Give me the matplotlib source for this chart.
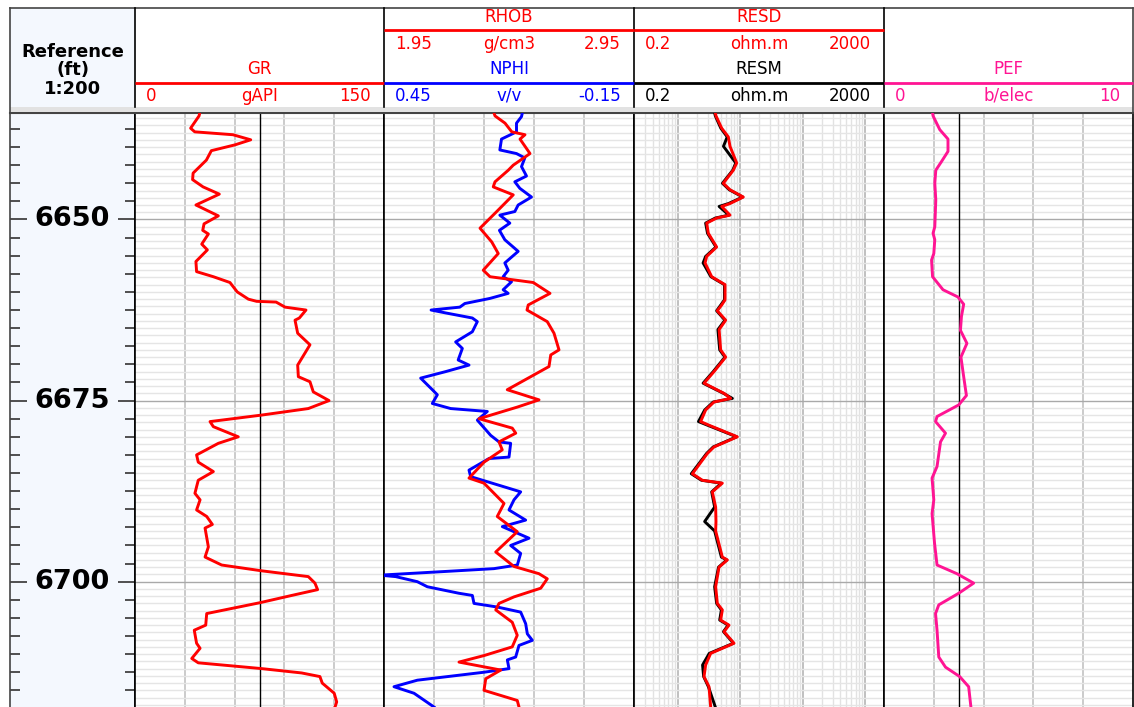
import numpy as np
import matplotlib
matplotlib.use("Agg")
import matplotlib.pyplot as plt
from matplotlib.ticker import MultipleLocator, FixedLocator, LogLocator, NullFormatter

# ---- log data (depth in ft) ----
gr_depth = [6635.3, 6635.7, 6637.4, 6637.9, 6638.3, 6639.0, 6639.7, 6640.5, 6641.8, 6643.6,
            6644.5, 6645.5, 6646.5, 6648.0, 6649.5, 6650.6, 6651.5, 6652.0, 6653.4, 6654.2,
            6655.8, 6657.2, 6657.9, 6658.7, 6660.0, 6661.0, 6661.3, 6661.4, 6662.1, 6662.5,
            6663.6, 6663.9, 6665.7, 6667.3, 6670.1, 6671.7, 6672.4, 6673.8, 6675.0, 6676.1,
            6677.0, 6677.9, 6678.6, 6680.0, 6680.9, 6682.5, 6683.5, 6684.8, 6686.0, 6687.8,
            6688.7, 6690.1, 6691.0, 6692.1, 6692.6, 6695.2, 6696.6, 6697.7, 6698.5, 6699.3,
            6700.2, 6701.1, 6701.9, 6702.9, 6704.4, 6706.0, 6706.7, 6708.5, 6709.2, 6710.6,
            6711.2, 6712.0, 6712.6, 6713.1, 6714.0, 6715.4, 6716.6, 6717.3]
gr = [39, 38.6, 33.5, 36, 59, 69.7, 60.2, 46, 43, 35,
      34.7, 41, 50.8, 36.7, 50.2, 41.6, 40.8, 44.2, 40.2, 43.6,
      36.7, 37.1, 47.2, 57.2, 61.6, 68.3, 73.3, 85, 90.4, 103,
      99, 96.4, 98, 105.4, 98, 98.4, 105.4, 107.4, 116.9, 104.4,
      76.3, 45.2, 47.2, 62.2, 50.2, 37.1, 38.1, 47.2, 38.1, 36.1,
      39.2, 37.1, 43.2, 46.6, 42.2, 44.2, 42.2, 52.2, 76.3, 104.4,
      108.4, 110, 94.4, 75.3, 43.2, 42.6, 35.7, 37.1, 39.2, 34.2,
      38.1, 76.3, 100.4, 111.4, 112.8, 120, 121.5, 120.5]

nphi_depth = [6635.3, 6635.8, 6636.7, 6637.9, 6638.9, 6640.4, 6640.9, 6641.5, 6642.7, 6644.0,
              6644.8, 6645.7, 6646.9, 6648.0, 6648.9, 6649.4, 6650.5, 6651.5, 6652.8, 6654.4,
              6656.0, 6657.0, 6657.9, 6658.6, 6659.7, 6660.2, 6660.9, 6661.6, 6662.1, 6662.5,
              6662.9, 6663.6, 6664.1, 6665.5, 6666.9, 6667.8, 6669.4, 6670.1, 6671.0, 6671.9,
              6673.5, 6674.2, 6675.4, 6676.1, 6676.5, 6677.7, 6679.8, 6680.7, 6680.9, 6682.8,
              6683.0, 6684.6, 6685.5, 6687.6, 6688.7, 6690.1, 6691.5, 6692.4, 6694.0, 6695.0,
              6696.1, 6697.7, 6698.2, 6698.6, 6699.1, 6699.3, 6700.0, 6700.7, 6701.6, 6701.9,
              6703.0, 6703.5, 6704.2, 6705.8, 6707.2, 6708.1, 6708.8, 6710.4, 6710.8, 6712.0,
              6712.5, 6713.6, 6714.5, 6715.4, 6717.3]
nphi = [0.118, 0.120, 0.132, 0.132, 0.168, 0.172, 0.132, 0.112, 0.120, 0.108,
        0.136, 0.124, 0.096, 0.128, 0.136, 0.172, 0.148, 0.173, 0.160, 0.128,
        0.160, 0.152, 0.164, 0.144, 0.164, 0.152, 0.196, 0.256, 0.268, 0.337,
        0.302, 0.238, 0.226, 0.238, 0.278, 0.262, 0.272, 0.246, 0.302, 0.362,
        0.334, 0.322, 0.334, 0.290, 0.202, 0.226, 0.194, 0.174, 0.146, 0.150,
        0.198, 0.246, 0.242, 0.122, 0.138, 0.150, 0.110, 0.166, 0.102, 0.146,
        0.122, 0.130, 0.186, 0.306, 0.46, 0.422, 0.370, 0.346, 0.270, 0.238,
        0.234, 0.178, 0.122, 0.110, 0.106, 0.094, 0.126, 0.134, 0.154, 0.150,
        0.210, 0.370, 0.426, 0.378, 0.330]

rhob_depth = [6635.3, 6635.7, 6636.7, 6637.9, 6638.3, 6638.9, 6640.9, 6642.5, 6643.2, 6644.8,
              6645.5, 6646.6, 6648.9, 6651.2, 6653.1, 6654.7, 6657.0, 6657.9, 6658.7, 6660.2,
              6661.8, 6662.5, 6664.1, 6665.7, 6668.0, 6668.7, 6670.3, 6671.7, 6673.5, 6674.9,
              6675.9, 6677.5, 6678.8, 6679.5, 6680.7, 6681.8, 6683.5, 6685.7, 6686.4, 6689.2,
              6691.0, 6693.1, 6695.9, 6697.9, 6698.9, 6699.6, 6700.9, 6702.1, 6703.0, 6703.9,
              6705.6, 6707.4, 6709.0, 6710.2, 6711.1, 6712.2, 6713.4, 6715.0, 6716.4, 6717.3]
rhob = [2.39, 2.394, 2.434, 2.461, 2.514, 2.494, 2.534, 2.467, 2.447, 2.394,
        2.387, 2.467, 2.401, 2.334, 2.381, 2.407, 2.347, 2.374, 2.547, 2.614,
        2.527, 2.522, 2.603, 2.63, 2.65, 2.617, 2.61, 2.537, 2.443, 2.57,
        2.483, 2.33, 2.463, 2.477, 2.41, 2.423, 2.35, 2.29, 2.35, 2.43,
        2.403, 2.483, 2.397, 2.47, 2.57, 2.603, 2.577, 2.47, 2.41, 2.397,
        2.463, 2.483, 2.463, 2.35, 2.25, 2.417, 2.357, 2.35, 2.483, 2.49]

res_depth = [6635.3, 6635.7, 6637.4, 6638.6, 6639.9, 6642.2, 6643.2, 6645.0, 6645.9, 6646.9,
             6647.8, 6648.2, 6649.4, 6649.8, 6650.5, 6651.9, 6653.8, 6655.1, 6656.0, 6657.9,
             6659.0, 6661.1, 6661.8, 6662.6, 6663.9, 6665.2, 6668.0, 6669.0, 6671.0, 6672.6,
             6674.0, 6674.7, 6675.2, 6676.3, 6677.9, 6678.4, 6680.0, 6681.4, 6682.3, 6685.1,
             6686.0, 6686.4, 6687.6, 6689.7, 6691.7, 6693.0, 6696.6, 6697.0, 6698.0, 6700.7,
             6703.0, 6703.9, 6705.3, 6706.0, 6706.9, 6708.5, 6709.9, 6711.5, 6713.1, 6714.5,
             6717.3]
resd = [4.0, 4.1, 5.06, 6.46, 6.87, 8.79, 7.76, 5.37, 6.87, 11.2,
        6.87, 5.06, 6.87, 4.2, 2.91, 3.09, 4.2, 2.91, 2.74, 3.5,
        5.72, 5.72, 5.06, 4.3, 5.86, 4.6, 4.87, 5.86, 3.81, 2.64,
        5.51, 7.04, 3.81, 2.80, 2.33, 3.17, 9.0, 3.81, 2.98, 1.72,
        2.48, 5.18, 3.58, 4.05, 4.1, 4.05, 5.18, 6.23, 4.58, 4.05,
        4.31, 5.18, 4.87, 6.62, 5.51, 7.96, 3.37, 2.8, 2.64, 3.17,
        3.37]
resm = [3.9, 4.0, 4.9, 6.2, 5.4, 8.5, 7.6, 5.2, 6.7, 11.0,
        6.5, 4.6, 6.6, 4.0, 2.8, 3.0, 4.1, 2.8, 2.55, 3.4,
        5.6, 5.6, 4.9, 4.2, 5.7, 4.4, 4.7, 5.7, 3.7, 2.55,
        5.4, 7.5, 3.7, 2.7, 2.15, 3.0, 8.8, 3.7, 2.9, 1.65,
        2.4, 5.0, 3.5, 3.9, 2.7, 3.9, 5.0, 6.1, 4.5, 3.9,
        4.2, 5.0, 4.7, 6.4, 5.4, 7.8, 3.2, 2.5, 2.6, 3.1,
        4.0]

pef_depth = [6635.3, 6635.7, 6637.6, 6638.9, 6640.6, 6642.0, 6643.2, 6645.0, 6647.3, 6651.0,
             6651.9, 6652.8, 6654.7, 6655.6, 6657.9, 6659.7, 6660.7, 6661.7, 6663.4, 6665.3,
             6667.1, 6669.0, 6671.7, 6674.3, 6675.6, 6677.2, 6677.9, 6679.5, 6680.7, 6684.1,
             6685.7, 6688.7, 6690.6, 6694.7, 6697.7, 6698.9, 6700.2, 6701.6, 6703.2, 6704.4,
             6706.7, 6710.4, 6711.8, 6713.1, 6714.5, 6717.3]
pef = [1.95, 1.97, 2.24, 2.57, 2.57, 2.31, 2.08, 2.04, 2.08, 2.04,
       1.97, 2.04, 2.0, 1.91, 1.95, 2.37, 2.97, 3.2, 3.11, 3.07,
       3.33, 3.09, 3.2, 3.31, 3.0, 2.13, 2.07, 2.47, 2.27, 2.13,
       1.93, 2.0, 1.93, 2.03, 2.13, 2.93, 3.6, 3.0, 2.2, 2.07,
       2.13, 2.2, 2.47, 3.04, 3.4, 3.49]

depth_labels = [6650, 6675, 6700]

# ---- layout (pixels) ----
W, H, DPI = 1134, 707, 100
TOP, BASE = 6635.3, 6717.3
BODY_Y = 113
X_DEPTH, X_GR, X_NEU, X_RES, X_PEF, X_END = 10, 135, 384, 634, 884, 1133
RED, BLUE, PINK = "#ff0000", "#0000ff", "#ff1493"
HEAD_FS = 12
CURVE_LW = 2.1

plt.rcParams['font.family'] = ['DejaVu Sans']
fig = plt.figure(figsize=(W / DPI, H / DPI), dpi=DPI)


def track_axes(x0, x1):
    ax = fig.add_axes([x0 / W, 0, (x1 - x0) / W, (H - BODY_Y) / H])
    ax.set_ylim(BASE, TOP)
    for s in ("left", "right"):
        ax.spines[s].set_color("black")
        ax.spines[s].set_linewidth(1.2)
    ax.spines["top"].set_color("#444444")
    ax.spines["top"].set_linewidth(1.5)
    ax.spines["bottom"].set_visible(False)
    return ax


def depth_grid(ax):
    ax.yaxis.set_major_locator(FixedLocator(depth_labels))
    ax.yaxis.set_minor_locator(MultipleLocator(1))
    ax.grid(which="minor", axis="y", color="#e5e5e5", lw=1.0)
    ax.grid(which="major", axis="y", color="#a9a9a9", lw=1.0)
    ax.tick_params(which="both", length=0, labelleft=False, labelbottom=False)
    ax.set_axisbelow(True)


# depth track
axd = track_axes(X_DEPTH, X_GR)
axd.set_facecolor("#f4f8fe")
axd.set_xlim(0, 1)
axd.set_xticks([])
axd.spines["left"].set_color("#444444")
axd.yaxis.set_major_locator(FixedLocator(depth_labels))
axd.yaxis.set_minor_locator(MultipleLocator(2.5))
axd.tick_params(axis="y", which="both", direction="in", left=True, right=True,
                labelleft=False, color="#333333", width=1.2)
axd.tick_params(axis="y", which="major", length=12)
axd.tick_params(axis="y", which="minor", length=7)
for d in depth_labels:
    axd.text(0.5, d, str(d), ha="center", va="center", fontsize=19.5,
             fontweight="bold", transform=axd.get_yaxis_transform())

# GR track
axg = track_axes(X_GR, X_NEU)
axg.set_xlim(0, 150)
axg.set_xticks([30, 60, 90, 120])
axg.grid(which="major", axis="x", color="#c2c2c2", lw=1.2)
depth_grid(axg)
axg.axvline(75, color="black", lw=1.0, zorder=1.5)
axg.plot(gr, gr_depth, color=RED, lw=CURVE_LW, zorder=3)

# NPHI / RHOB track
axn = track_axes(X_NEU, X_RES)
axn.set_xlim(0.45, -0.15)
axn.set_xticks([0.33, 0.21, 0.09, -0.03])
axn.grid(which="major", axis="x", color="#c2c2c2", lw=1.2)
depth_grid(axn)
axn.plot(nphi, nphi_depth, color=BLUE, lw=CURVE_LW, zorder=3)
axr = axn.twiny()
axr.set_xlim(1.95, 2.95)
axr.set_ylim(BASE, TOP)
axr.patch.set_visible(False)
for s in axr.spines.values():
    s.set_visible(False)
axr.tick_params(which="both", length=0, labeltop=False, labelbottom=False)
axr.plot(rhob, rhob_depth, color=RED, lw=CURVE_LW, zorder=4)

# resistivity track
axs = track_axes(X_RES, X_PEF)
axs.set_xscale("log")
axs.set_xlim(0.2, 2000)
axs.xaxis.set_major_locator(FixedLocator([1, 10, 100, 1000]))
axs.xaxis.set_minor_locator(LogLocator(base=10, subs=np.arange(2, 10), numticks=20))
axs.xaxis.set_minor_formatter(NullFormatter())
axs.grid(which="minor", axis="x", color="#e2e2e2", lw=1.0)
axs.grid(which="major", axis="x", color="#b5b5b5", lw=1.2)
depth_grid(axs)
axs.tick_params(axis="x", which="both", length=0, labelbottom=False)
axs.plot(resm, res_depth, color="black", lw=CURVE_LW, zorder=3)
axs.plot(resd, res_depth, color=RED, lw=CURVE_LW, zorder=4)

# PEF track
axp = track_axes(X_PEF, X_END)
axp.set_xlim(0, 10)
axp.set_xticks([2, 4, 6, 8])
axp.grid(which="major", axis="x", color="#c2c2c2", lw=1.2)
depth_grid(axp)
axp.axvline(3, color="black", lw=1.0, zorder=1.5)
axp.plot(pef, pef_depth, color=PINK, lw=CURVE_LW, zorder=3)

# ---- header (pixel overlay) ----
hd = fig.add_axes([0, 0, 1, 1], zorder=10)
hd.set_xlim(0, W)
hd.set_ylim(H, 0)
hd.axis("off")
hd.patch.set_visible(False)

hd.add_patch(plt.Rectangle((X_DEPTH, 8), X_GR - X_DEPTH, 100, fc="#f4f8fe", ec="none"))
hd.add_patch(plt.Rectangle((X_DEPTH, 107), X_END - X_DEPTH, 5, fc="#e2e2e2", ec="none"))
hd.plot([X_DEPTH, X_END], [8, 8], color="#444444", lw=1.2)
hd.plot([X_DEPTH, X_DEPTH], [8, BODY_Y], color="#444444", lw=1.2)
hd.plot([X_END, X_END], [8, BODY_Y], color="#444444", lw=1.2)
for x in (X_GR, X_NEU, X_RES, X_PEF):
    hd.plot([x, x], [8, 107], color="black", lw=1.2)

for text, y in (("Reference", 52), ("(ft)", 70), ("1:200", 89)):
    hd.text((X_DEPTH + X_GR) / 2, y, text, ha="center", va="center",
            fontsize=13, fontweight="bold")


def curve_header(x0, x1, row, name, unit, lo, hi, color):
    # row 0 = upper slot, row 1 = lower slot
    y_name, y_line, y_vals = (17, 30, 44) if row == 0 else (69, 83, 96)
    mid = (x0 + x1) / 2
    hd.text(mid, y_name, name, ha="center", va="center", fontsize=HEAD_FS, color=color)
    hd.plot([x0, x1], [y_line, y_line], color=color, lw=2.0, solid_capstyle="butt")
    hd.text(x0 + 11, y_vals, lo, ha="left", va="center", fontsize=HEAD_FS, color=color)
    hd.text(mid, y_vals, unit, ha="center", va="center", fontsize=HEAD_FS, color=color)
    hd.text(x1 - 13, y_vals, hi, ha="right", va="center", fontsize=HEAD_FS, color=color)


curve_header(X_GR, X_NEU, 1, "GR", "gAPI", "0", "150", RED)
curve_header(X_NEU, X_RES, 0, "RHOB", "g/cm3", "1.95", "2.95", RED)
curve_header(X_NEU, X_RES, 1, "NPHI", "v/v", "0.45", "-0.15", BLUE)
curve_header(X_RES, X_PEF, 0, "RESD", "ohm.m", "0.2", "2000", RED)
curve_header(X_RES, X_PEF, 1, "RESM", "ohm.m", "0.2", "2000", "black")
curve_header(X_PEF, X_END, 1, "PEF", "b/elec", "0", "10", PINK)

fig.savefig("out.png", dpi=DPI, facecolor="white")
